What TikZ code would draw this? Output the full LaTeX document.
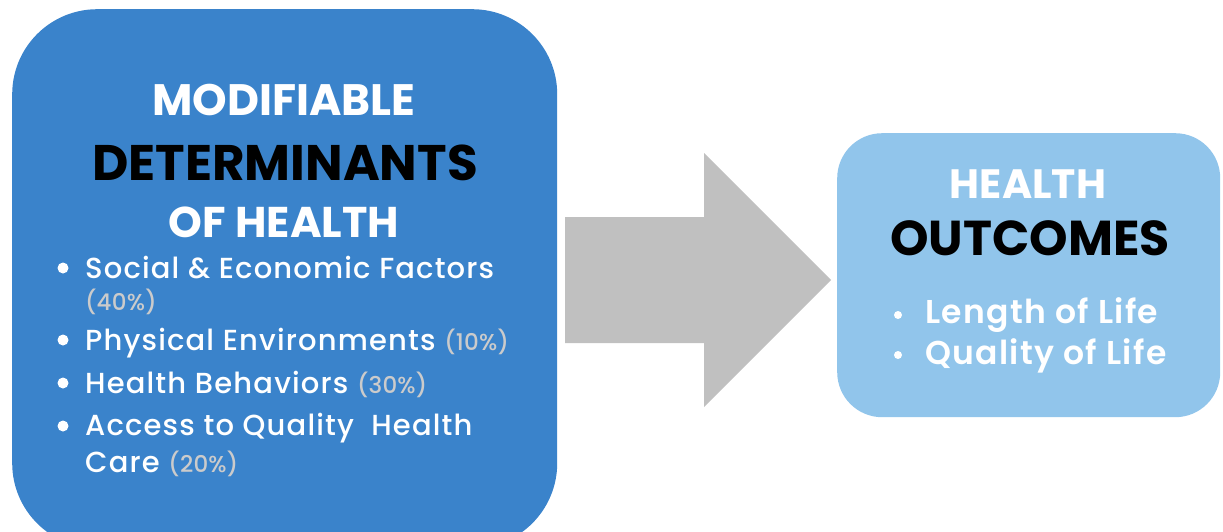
\documentclass[tikz,border=0pt]{standalone}
\usepackage{fontspec}
\setmainfont{Poppins}
\newfontfamily\medfont[LetterSpace=4]{Poppins Medium}
\newfontfamily\pctfont[LetterSpace=1]{Poppins Medium}
\newfontfamily\ritemfont[LetterSpace=4]{Poppins SemiBold}
\definecolor{leftblue}{HTML}{3A83CB}
\definecolor{rightblue}{HTML}{91C5EB}
\definecolor{arrowgray}{HTML}{C0C0C0}
\definecolor{pctgray}{HTML}{CBCBCB}
\tikzset{
  titlew/.style={anchor=base, text=white, inner sep=0pt},
  titlek/.style={anchor=base, text=black, inner sep=0pt},
  item/.style={anchor=base west, text=white, inner sep=0pt, font=\medfont\fontsize{29}{29}\selectfont},
  ritem/.style={anchor=base west, text=white, inner sep=0pt, font=\ritemfont\fontsize{33}{33}\selectfont},
  dot/.style={circle, fill=white, inner sep=0pt},
}
\newcommand{\pct}[1]{{\color{pctgray}\pctfont\fontsize{23}{23}\selectfont #1}}
\begin{document}
\begin{tikzpicture}[x=1pt,y=-1pt]
\useasboundingbox (0,0) rectangle (1223,531);
\begin{scope}
\clip (0,0) rectangle (1223,531);
\node[fill=leftblue, rounded corners=85pt, minimum width=545pt, minimum height=539pt, anchor=north west, inner sep=0pt] (left) at (12,9) {};
\end{scope}
\node[fill=rightblue, rounded corners=45pt, minimum width=383pt, minimum height=284pt, anchor=north west, inner sep=0pt] (right) at (837,133) {};
\fill[arrowgray] (565,217) -- (704,217) -- (704,153) -- (831,280) -- (704,407) -- (704,343) -- (565,343) -- cycle;
% left title
\node[titlew, font=\bfseries\fontsize{44}{44}\selectfont] (t1) at (284,115) {MODIFIABLE};
\node[titlek, font=\bfseries\fontsize{50}{50}\selectfont] (t2) at (285,180) {DETERMINANTS};
\node[titlew, font=\bfseries\fontsize{43}{43}\selectfont] (t3) at (284,237) {OF HEALTH};
% left items
\node[item] (i1) at (85,278) {Social \& Economic Factors};
\node[item] (i1b) at (85,310) {\pct{(40\%)}};
\node[item] (i2) at (85,350) {Physical Environments \pct{(10\%)}};
\node[item] (i3) at (85,393) {Health Behaviors \pct{(30\%)}};
\node[item] (i4) at (85,435) {Access to Quality\ \ Health};
\node[item] (i4b) at (85,472) {Care \pct{(20\%)}};
\foreach \yy/\nm in {268/d1,340/d2,383/d3,426/d4}
  \node[dot, minimum size=11pt] (\nm) at (63,\yy) {};
% right title
\node[titlew, font=\bfseries\fontsize{41}{41}\selectfont] (h1) at (1028,198) {HEALTH};
\node[titlek, font=\bfseries\fontsize{49}{49}\selectfont] (h2) at (1030,255) {OUTCOMES};
\node[ritem] (r1) at (925,323) {Length of Life};
\node[ritem] (r2) at (925,364) {Quality of Life};
\node[dot, minimum size=8pt] (rd1) at (898,315) {};
\node[dot, minimum size=8pt] (rd2) at (898,355) {};
\end{tikzpicture}
\end{document}
